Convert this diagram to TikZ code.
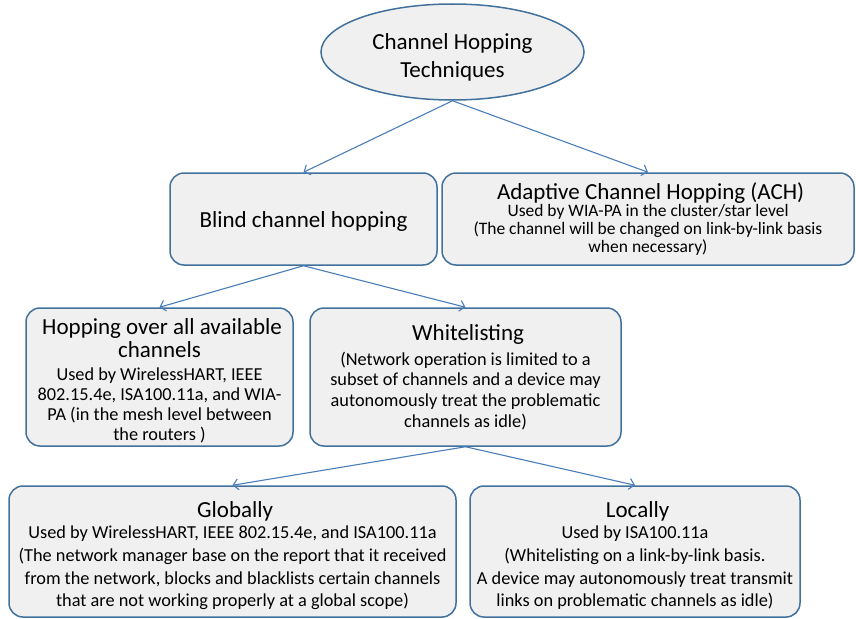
\documentclass[tikz,border=0pt]{standalone}
\usepackage{fontspec}
\setmainfont{Carlito}
\usetikzlibrary{shapes.geometric,arrows.meta}
\definecolor{boxfill}{HTML}{F0F0F0}
\definecolor{boxline}{HTML}{41719C}
\definecolor{linkline}{HTML}{4A7EBB}
% title and body type sizes
\newcommand{\ttl}[1]{\fontsize{23}{#1}\selectfont}
\newcommand{\sub}[1]{\fontsize{18.3}{#1}\selectfont}
% invisible strut that lowers a block of text inside its frame
\newcommand{\lowerby}[1]{\rule{0pt}{#1}}
\tikzset{
  box/.style={draw=boxline, fill=boxfill, line width=1.5pt, rounded corners=14pt,
    align=flush center, inner sep=0pt},
  link/.style={draw=linkline, line width=1.1pt, -{Straight Barb[length=5pt,width=11pt]}}
}
\begin{document}
\begin{tikzpicture}[x=1pt,y=-1pt]
\useasboundingbox (0,0) rectangle (856,618);
\node[ellipse, draw=boxline, fill=boxfill, line width=1.5pt, minimum width=263pt,
  minimum height=96pt, align=flush center, inner sep=0pt, text width=180pt,
  font=\fontsize{23}{28}\selectfont] (root) at (452.5,52)
  {\lowerby{26pt}Channel Hopping\\Techniques\par};
\node[box, minimum width=267pt, minimum height=92pt, text width=260pt,
  font=\fontsize{23}{25}\selectfont] (blind) at (303.5,219)
  {\lowerby{21pt}Blind channel hopping\par};
\node[box, minimum width=412pt, minimum height=92pt, text width=405pt] (ach) at (648,219)
  {{\ttl{25} Adaptive Channel Hopping (ACH)\par}\vspace{-1pt}
   {\fontsize{17.5}{18.3}\selectfont Used by WIA-PA in the cluster/star level\\
   (The channel will be changed on link-by-link basis\\
   when necessary)\par}};
\node[box, minimum width=267pt, minimum height=138pt, text width=262pt] (hop) at (159.5,377)
  {{\ttl{22.5} \lowerby{24pt}Hopping over all available\\
   channels\par}\vspace{3.5pt}
   {\sub{20} Used by WirelessHART, IEEE\\
   802.15.4e, ISA100.11a, and WIA-\\
   PA (in the mesh level between\\
   the routers )\par}};
\node[box, minimum width=311pt, minimum height=138pt, text width=304pt] (white) at (465.5,377)
  {{\ttl{25} Whitelisting\par}\vspace{4pt}
   {\sub{20.7} (Network operation is limited to a\\
   subset of channels and a device may\\
   autonomously treat the problematic\\
   channels as idle)\par}};
\node[box, minimum width=447pt, minimum height=131pt, text width=440pt] (glob) at (232.5,551.5)
  {{\ttl{25} \lowerby{24pt}Globally\par}\vspace{-1pt}
   {\sub{22.7} Used by WirelessHART, IEEE 802.15.4e, and ISA100.11a\\
   (The network manager base on the report that it received\\
   from the network, blocks and blacklists certain channels\\
   that are not working properly at a global scope)\par}};
\node[box, minimum width=330pt, minimum height=131pt, text width=323pt] (loc) at (635,551.5)
  {{\ttl{25} \lowerby{24pt}Locally\par}\vspace{-1pt}
   {\sub{22.7} Used by ISA100.11a\\
   (Whitelisting on a link-by-link basis.\\
   A device may autonomously treat transmit\\
   links on problematic channels as idle)\par}};
\draw[link] (root.south) -- (blind.north);
\draw[link] (root.south) -- (ach.north);
\draw[link] (blind.south) -- (hop.north);
\draw[link] (blind.south) -- (white.north);
\draw[link] (white.south) -- (glob.north);
\draw[link] (white.south) -- (loc.north);
\end{tikzpicture}
\end{document}
